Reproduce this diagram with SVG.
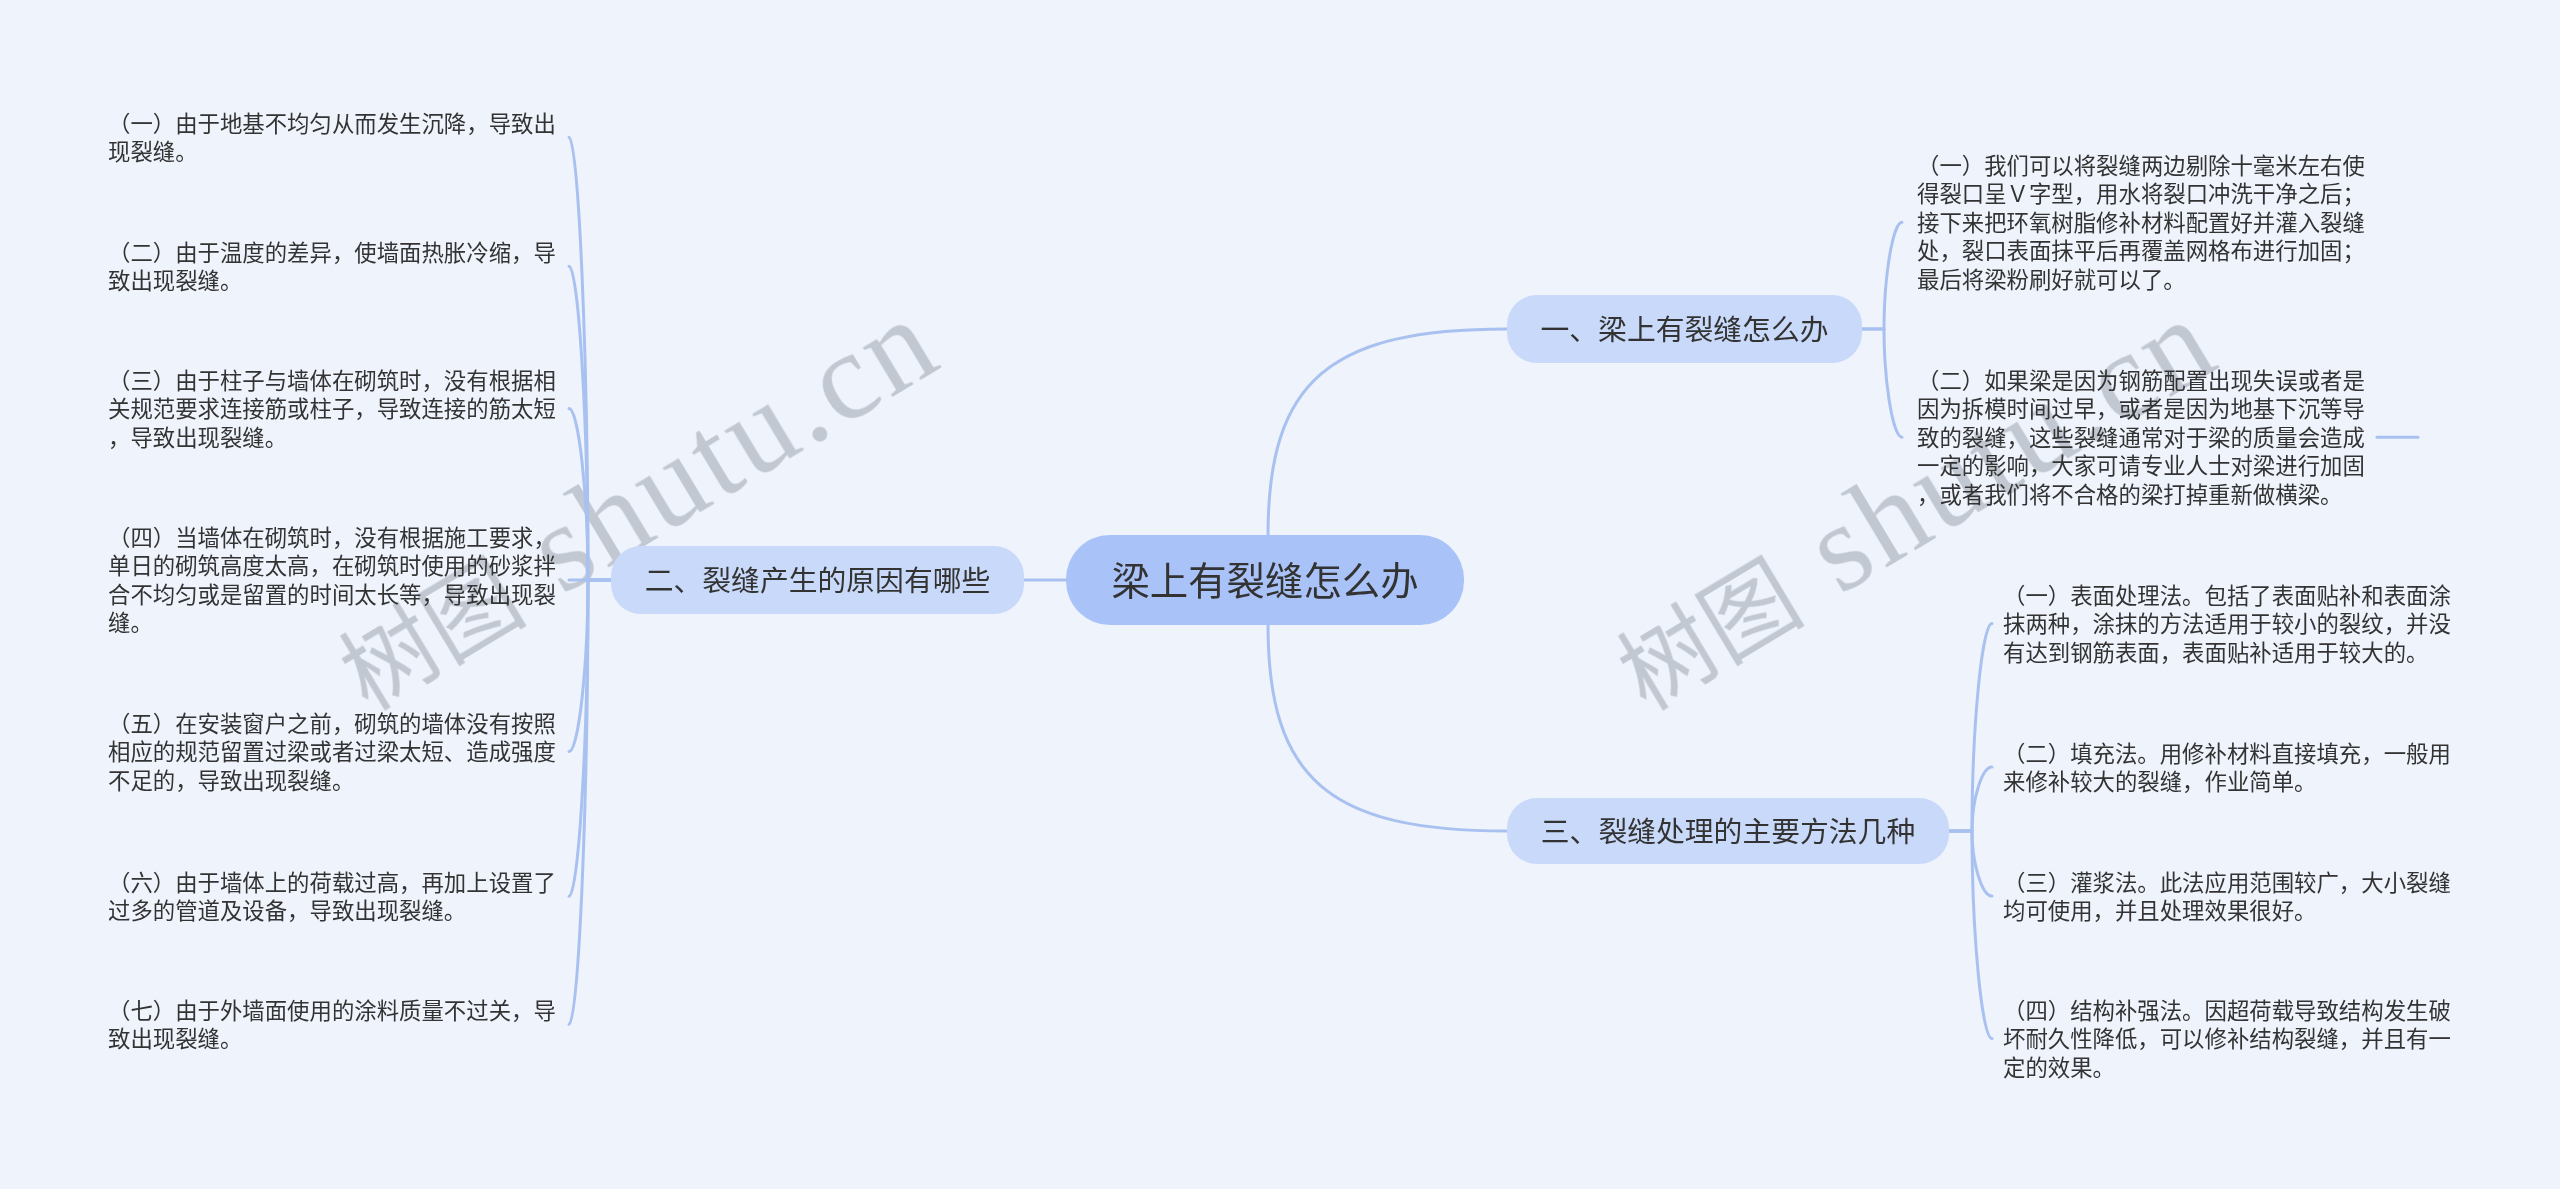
<svg xmlns="http://www.w3.org/2000/svg" width="2560" height="1189" viewBox="0 0 2560 1189">
<style>
.bg{fill:#eef3fc}
.wm{fill:#9ea4ae;opacity:0.55}
.wmc{font-family:"Noto Sans CJK SC",sans-serif}
.wml{font-family:"Liberation Serif",serif}
.conn path{fill:none;stroke:#a9c1f0;stroke-width:3;stroke-linecap:round}
.root rect{fill:#a9c3f8}
.branch rect{fill:#c9d9f9}
.t{font-family:"Noto Sans CJK SC","Microsoft YaHei",sans-serif;fill:#333333}
.rt{font-size:38.4px}
.bt{font-size:28.8px}
.lt{font-size:22.4px}
</style>
<rect class="bg" x="0" y="0" width="2560" height="1189"/>

<g id="watermarks" class="wm">
  <g transform="translate(368,712) rotate(-31)">
    <text class="wmc" x="0" y="0" font-size="94">树图</text>
    <text class="wml" x="226" y="0" font-size="124" textLength="445" lengthAdjust="spacing">shutu.cn</text>
  </g>
  <g transform="translate(1646,712) rotate(-31)">
    <text class="wmc" x="0" y="0" font-size="94">树图</text>
    <text class="wml" x="226" y="0" font-size="124" textLength="445" lengthAdjust="spacing">shutu.cn</text>
  </g>
</g>

<g id="connectors" class="conn">
  <path d="M1268,580 L1268,535 C1268,380 1330,329 1507,329"/>
  <path d="M1268,580 L1268,625 C1268,780 1330,831 1507,831"/>
  <path d="M1024,580 L1066,580"/>
  <!-- branch 1 -->
  <path d="M1862,329 L1884,329 C1884,275.6 1893,222.2 1902,222.2"/>
  <path d="M1862,329 L1884,329 C1884,383 1893,437.2 1902,437.2"/>
  <path d="M2377,437.2 L2418,437.2"/>
  <!-- branch 3 -->
  <path d="M1949,831 L1972,831 C1972,727.3 1982,623.6 1992,623.6"/>
  <path d="M1949,831 L1972,831 C1972,799 1982,767 1992,767"/>
  <path d="M1949,831 L1972,831 C1972,863.5 1982,896 1992,896"/>
  <path d="M1949,831 L1972,831 C1972,934.8 1982,1038.6 1992,1038.6"/>
  <!-- branch 2 -->
  <path d="M611,580 L588,580 C588,358.7 578.5,137.3 569,137.3"/>
  <path d="M611,580 L588,580 C588,423.2 578.5,266.3 569,266.3"/>
  <path d="M611,580 L588,580 C588,494.3 578.5,408.6 569,408.6"/>
  <path d="M611,580 L569,580"/>
  <path d="M611,580 L588,580 C588,665.8 578.5,751.6 569,751.6"/>
  <path d="M611,580 L588,580 C588,738.2 578.5,896.3 569,896.3"/>
  <path d="M611,580 L588,580 C588,802.2 578.5,1024.3 569,1024.3"/>
</g>

<g id="root" class="root">
  <rect x="1066" y="535" width="398" height="90" rx="44"/>
  <text class="t rt" x="1265" y="594.6" text-anchor="middle">梁上有裂缝怎么办</text>
</g>

<g id="branch1" class="branch">
  <rect x="1507" y="295" width="355" height="68" rx="30"/>
  <text class="t bt" x="1684.5" y="340" text-anchor="middle">一、梁上有裂缝怎么办</text>
</g>
<g id="branch2" class="branch">
  <rect x="611" y="546" width="413" height="68" rx="30"/>
  <text class="t bt" x="817.5" y="591" text-anchor="middle">二、裂缝产生的原因有哪些</text>
</g>
<g id="branch3" class="branch">
  <rect x="1507" y="798" width="442" height="66" rx="30"/>
  <text class="t bt" x="1728" y="842" text-anchor="middle">三、裂缝处理的主要方法几种</text>
</g>

<g id="leaf1-1">
  <text class="t lt" x="1917" y="173.5"><tspan x="1917">（一）我们可以将裂缝两边剔除十毫米左右使</tspan><tspan x="1917" dy="28.6">得裂口呈Ｖ字型，用水将裂口冲洗干净之后；</tspan><tspan x="1917" dy="28.6">接下来把环氧树脂修补材料配置好并灌入裂缝</tspan><tspan x="1917" dy="28.6">处，裂口表面抹平后再覆盖网格布进行加固；</tspan><tspan x="1917" dy="28.6">最后将梁粉刷好就可以了。</tspan></text>
</g>
<g id="leaf1-2">
  <text class="t lt" x="1917" y="388.5"><tspan x="1917">（二）如果梁是因为钢筋配置出现失误或者是</tspan><tspan x="1917" dy="28.6">因为拆模时间过早，或者是因为地基下沉等导</tspan><tspan x="1917" dy="28.6">致的裂缝，这些裂缝通常对于梁的质量会造成</tspan><tspan x="1917" dy="28.6">一定的影响，大家可请专业人士对梁进行加固</tspan><tspan x="1917" dy="28.6">，或者我们将不合格的梁打掉重新做横梁。</tspan></text>
</g>

<g id="leaf3-1">
  <text class="t lt" x="2003" y="603.5"><tspan x="2003">（一）表面处理法。包括了表面贴补和表面涂</tspan><tspan x="2003" dy="28.6">抹两种，涂抹的方法适用于较小的裂纹，并没</tspan><tspan x="2003" dy="28.6">有达到钢筋表面，表面贴补适用于较大的。</tspan></text>
</g>
<g id="leaf3-2">
  <text class="t lt" x="2003" y="761.5"><tspan x="2003">（二）填充法。用修补材料直接填充，一般用</tspan><tspan x="2003" dy="28.6">来修补较大的裂缝，作业简单。</tspan></text>
</g>
<g id="leaf3-3">
  <text class="t lt" x="2003" y="890.5"><tspan x="2003">（三）灌浆法。此法应用范围较广，大小裂缝</tspan><tspan x="2003" dy="28.6">均可使用，并且处理效果很好。</tspan></text>
</g>
<g id="leaf3-4">
  <text class="t lt" x="2003" y="1018.5"><tspan x="2003">（四）结构补强法。因超荷载导致结构发生破</tspan><tspan x="2003" dy="28.6">坏耐久性降低，可以修补结构裂缝，并且有一</tspan><tspan x="2003" dy="28.6">定的效果。</tspan></text>
</g>

<g id="leaf2-1">
  <text class="t lt" x="108" y="131.5"><tspan x="108">（一）由于地基不均匀从而发生沉降，导致出</tspan><tspan x="108" dy="28.6">现裂缝。</tspan></text>
</g>
<g id="leaf2-2">
  <text class="t lt" x="108" y="260.5"><tspan x="108">（二）由于温度的差异，使墙面热胀冷缩，导</tspan><tspan x="108" dy="28.6">致出现裂缝。</tspan></text>
</g>
<g id="leaf2-3">
  <text class="t lt" x="108" y="388.5"><tspan x="108">（三）由于柱子与墙体在砌筑时，没有根据相</tspan><tspan x="108" dy="28.6">关规范要求连接筋或柱子，导致连接的筋太短</tspan><tspan x="108" dy="28.6">，导致出现裂缝。</tspan></text>
</g>
<g id="leaf2-4">
  <text class="t lt" x="108" y="545.5"><tspan x="108">（四）当墙体在砌筑时，没有根据施工要求，</tspan><tspan x="108" dy="28.6">单日的砌筑高度太高，在砌筑时使用的砂浆拌</tspan><tspan x="108" dy="28.6">合不均匀或是留置的时间太长等，导致出现裂</tspan><tspan x="108" dy="28.6">缝。</tspan></text>
</g>
<g id="leaf2-5">
  <text class="t lt" x="108" y="731.5"><tspan x="108">（五）在安装窗户之前，砌筑的墙体没有按照</tspan><tspan x="108" dy="28.6">相应的规范留置过梁或者过梁太短、造成强度</tspan><tspan x="108" dy="28.6">不足的，导致出现裂缝。</tspan></text>
</g>
<g id="leaf2-6">
  <text class="t lt" x="108" y="890.5"><tspan x="108">（六）由于墙体上的荷载过高，再加上设置了</tspan><tspan x="108" dy="28.6">过多的管道及设备，导致出现裂缝。</tspan></text>
</g>
<g id="leaf2-7">
  <text class="t lt" x="108" y="1018.5"><tspan x="108">（七）由于外墙面使用的涂料质量不过关，导</tspan><tspan x="108" dy="28.6">致出现裂缝。</tspan></text>
</g>
</svg>
